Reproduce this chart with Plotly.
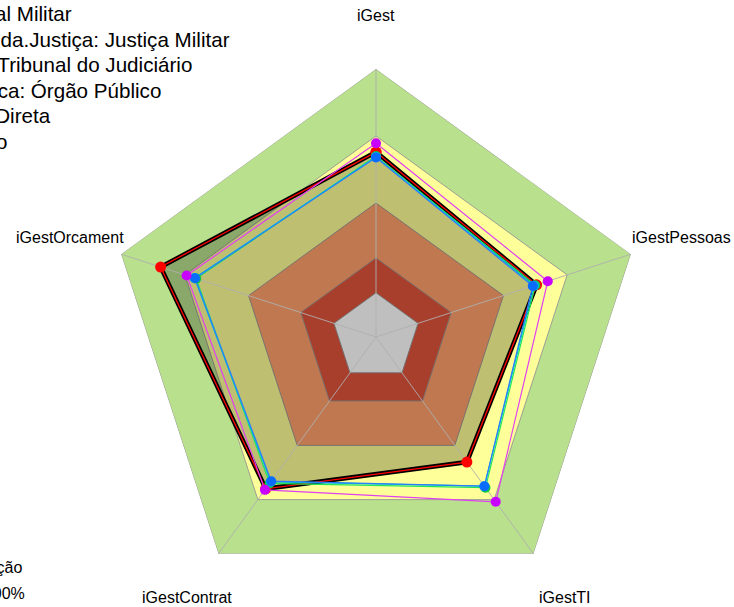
import math
import plotly.graph_objects as go

# ---- data ----
axes_labels = ["iGest", "iGestPessoas", "iGestTI", "iGestContrat", "iGestOrcament"]

band_limits = [1.0, 0.75, 0.5, 0.295, 0.165]
band_colors = ["#B9E08C", "#FFFF99", "#FFA06B", "#E0553B", "#FFFFFF"]

series_names = [
    "Organização: Superior Tribunal Militar",
    "Segmento.da.Justiça: Justiça Militar",
    "Tipo.de.Organização: Tribunal do Judiciário",
    "Natureza.Jurídica: Órgão Público",
    "Poder: Judiciário",
]
main_values = [0.69, 0.63, 0.577, 0.70, 0.845]
green_values = [0.675, 0.625, 0.695, 0.675, 0.705]
cyan_values = [0.672, 0.62, 0.688, 0.668, 0.712]
blue_values = [0.67, 0.615, 0.688, 0.665, 0.71]
magenta_values = [0.723, 0.674, 0.76, 0.705, 0.743]

legend_lines = [
    "Organização: Superior Tribunal Militar",
    "Segmento.da.Justiça: Justiça Militar",
    "Tipo: Tribunal do Judiciário",
    "Natureza.Jurídica: Órgão Público",
    "Administração Direta",
    "Poder: Judiciário",
]
legend_ends = [74, 232, 194, 163, 53, 9]
legend_yc = [13.7, 39.5, 64.5, 90, 115.5, 141]

note_lines = ["Escala de avaliação", "0% a 100%"]
note_ends = [24, 27]
note_yc = [567, 593]

label_radius = 1.2

W, H = 734, 607
cx, cy, R = 376, 337, 268


def closed(v):
    return list(v) + [v[0]]


theta_c = closed(axes_labels)

fig = go.Figure()

# background bands
for lim, col in zip(band_limits, band_colors):
    fig.add_trace(go.Scatterpolar(
        r=[lim] * len(theta_c), theta=theta_c, mode="lines", fill="toself",
        fillcolor=col, line=dict(color="rgba(150,150,150,0.9)", width=1),
        hoverinfo="skip", showlegend=False))

# shading of the main series
fig.add_trace(go.Scatterpolar(
    r=closed(main_values), theta=theta_c, mode="lines", fill="toself",
    fillcolor="rgba(0,0,0,0.25)", line=dict(width=0),
    hoverinfo="skip", showlegend=False))

# spokes
for t in axes_labels:
    fig.add_trace(go.Scatterpolar(
        r=[0, 1], theta=[t, t], mode="lines",
        line=dict(color="rgba(175,175,175,0.9)", width=1),
        hoverinfo="skip", showlegend=False))

# main series (black outline with red line)
fig.add_trace(go.Scatterpolar(
    r=closed(main_values), theta=theta_c, mode="lines",
    line=dict(color="black", width=4.5), showlegend=False))
fig.add_trace(go.Scatterpolar(
    r=closed(main_values), theta=theta_c, mode="lines+markers",
    line=dict(color="#FF0000", width=1.3),
    marker=dict(color="#FF0000", size=11), name=series_names[0], showlegend=False))

# comparison series
others = [
    (green_values, "#22E65A", "#10C840", series_names[1]),
    (cyan_values, "#00C4D4", "#00B4E0", series_names[2]),
    (blue_values, "#2A7CFF", "#0A6CFF", series_names[3]),
    (magenta_values, "#E040F0", "#C800FF", series_names[4]),
]
for vals, lc, mc, nm in others:
    fig.add_trace(go.Scatterpolar(
        r=closed(vals), theta=theta_c, mode="lines",
        line=dict(color=lc, width=1.2), name=nm, showlegend=False))
for vals, lc, mc, nm in others:
    fig.add_trace(go.Scatterpolar(
        r=vals, theta=axes_labels, mode="markers",
        marker=dict(color=mc, size=10), showlegend=False))

annotations = []
# axis labels, placed outside the polygon along each axis direction
for i, lab in enumerate(axes_labels):
    ang = math.radians(90 - 360 / len(axes_labels) * i)
    px = cx + label_radius * R * math.cos(ang)
    py = cy - label_radius * R * math.sin(ang)
    annotations.append(dict(
        text=lab, xref="paper", yref="paper", x=px / W, y=1 - py / H,
        xanchor="center", yanchor="middle", showarrow=False,
        font=dict(size=16, color="black", family="Liberation Sans, Arial")))

for txt, xe, yc in zip(legend_lines, legend_ends, legend_yc):
    annotations.append(dict(
        text=txt, xref="paper", yref="paper", x=xe / W, y=1 - yc / H,
        xanchor="right", yanchor="middle", showarrow=False,
        font=dict(size=20.6, color="black", family="Liberation Sans, Arial")))
for txt, xe, yc in zip(note_lines, note_ends, note_yc):
    annotations.append(dict(
        text=txt, xref="paper", yref="paper", x=xe / W, y=1 - yc / H,
        xanchor="right", yanchor="middle", showarrow=False,
        font=dict(size=16, color="black", family="Liberation Sans, Arial")))

fig.update_layout(
    width=W, height=H,
    margin=dict(l=0, r=0, t=0, b=0),
    paper_bgcolor="white",
    showlegend=False,
    font=dict(family="Liberation Sans, Arial"),
    annotations=annotations,
    polar=dict(
        domain=dict(x=[(cx - R) / W, (cx + R) / W],
                    y=[(H - cy - R) / H, (H - cy + R) / H]),
        gridshape="linear",
        bgcolor="white",
        radialaxis=dict(visible=False, range=[0, 1], showgrid=False),
        angularaxis=dict(direction="clockwise", rotation=90, showgrid=False,
                         showline=False, showticklabels=False, ticks=""),
    ),
)

fig.write_html("out.html", config={"displayModeBar": False},
               post_script="document.body.style.margin='0px';")
